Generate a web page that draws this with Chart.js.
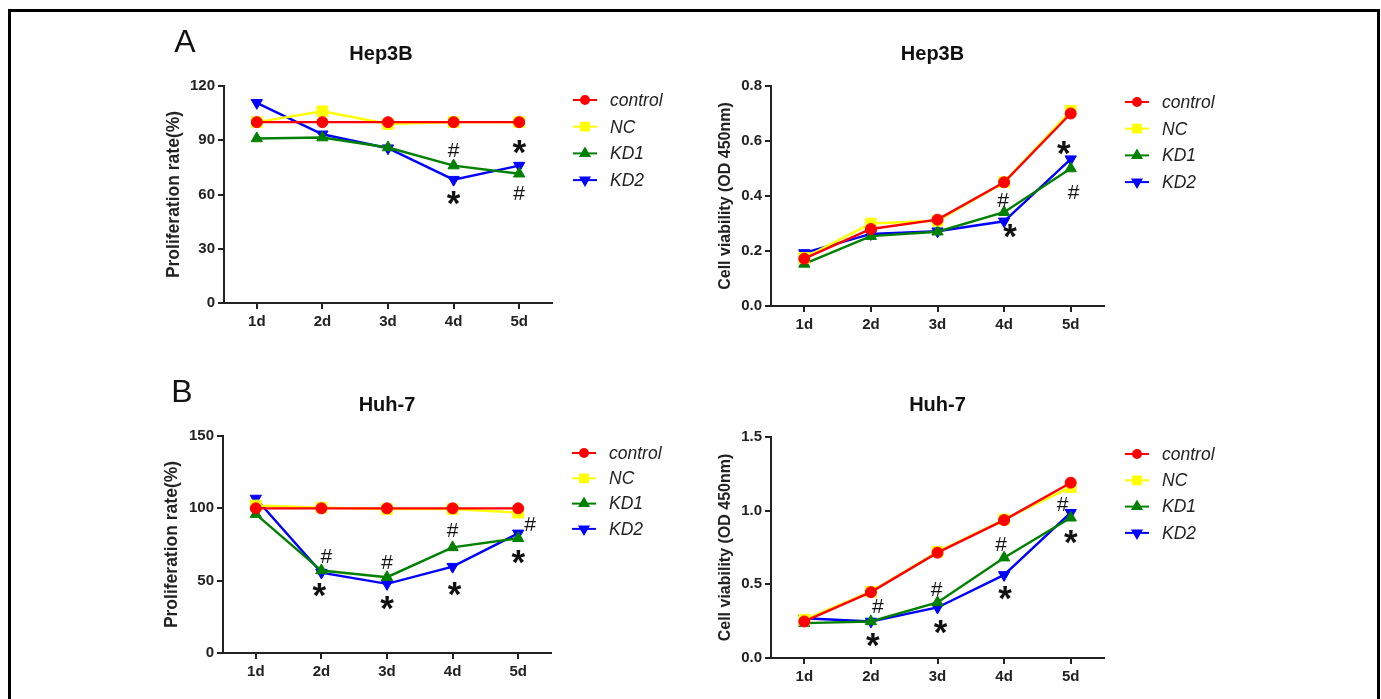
<!DOCTYPE html>
<html>
<head>
<meta charset="utf-8">
<script src="https://cdn.jsdelivr.net/npm/chart.js@4.4.0/dist/chart.umd.min.js"></script>
<style>
    html, body { margin: 0; padding: 0; background: #fff; width: 1381px; height: 699px; overflow: hidden; }
    #frame { position: absolute; left: 8px; top: 9px; width: 1372px; height: 760px; border: 3px solid #000; box-sizing: border-box; }
    canvas { position: absolute; }
</style>
</head>
<body>
<div id="frame"></div>
<canvas id="hepRate" width="560" height="330" style="left:140px;top:20px"></canvas>
<canvas id="hepOd" width="560" height="330" style="left:700px;top:20px"></canvas>
<canvas id="huhRate" width="560" height="325" style="left:140px;top:370px"></canvas>
<canvas id="huhOd" width="560" height="325" style="left:700px;top:370px"></canvas>
<script>
const FONT = "'Liberation Sans', Arial, Helvetica, sans-serif";

const days = ['1d', '2d', '3d', '4d', '5d'];
const groups = ['control', 'NC', 'KD1', 'KD2'];

// A - Hep3B, proliferation rate (%)
const hepRateControl = [100, 100, 100, 100, 100];
const hepRateNC = [100, 106, 99, 100, 100];
const hepRateKD1 = [91, 91.5, 86, 76, 71.5];
const hepRateKD2 = [110.7, 93.3, 85.6, 68.2, 76];
const hepRateHash = [null, null, null, 84.6, 61];
const hepRateStar = [null, null, null, 58, 86];
const hepRateTicks = [0, 30, 60, 90, 120];

// A - Hep3B, cell viability (OD 450nm)
const hepOdControl = [0.172, 0.28, 0.314, 0.45, 0.70];
const hepOdNC = [0.175, 0.30, 0.31, 0.45, 0.71];
const hepOdKD1 = [0.153, 0.254, 0.27, 0.341, 0.50];
const hepOdKD2 = [0.193, 0.262, 0.272, 0.308, 0.534];
const hepOdHash = [null, null, null, 0.384, 0.416];
const hepOdStar = [null, null, null, 0.273, 0.575];
const hepOdTicks = [0, 0.2, 0.4, 0.6, 0.8];

// B - Huh-7, proliferation rate (%)
const huhRateControl = [100, 100, 100, 100, 100];
const huhRateNC = [102, 100.5, 99.5, 99.5, 97];
const huhRateKD1 = [96, 57, 52.4, 73, 79.3];
const huhRateKD2 = [106.8, 55.6, 47.8, 59.7, 82.7];
const huhRateHash = [null, 66.8, 62.9, 85, 89.4];
const huhRateStar = [null, 43.6, 34.5, 44.1, 66.6];
const huhRateTicks = [0, 50, 100, 150];

// B - Huh-7, cell viability (OD 450nm)
const huhOdControl = [0.248, 0.447, 0.715, 0.936, 1.19];
const huhOdNC = [0.26, 0.45, 0.72, 0.94, 1.16];
const huhOdKD1 = [0.237, 0.248, 0.377, 0.681, 0.952];
const huhOdKD2 = [0.27, 0.248, 0.343, 0.564, 0.986];
const huhOdHash = [null, 0.352, 0.471, 0.774, 1.047];
const huhOdStar = [null, 0.124, 0.212, 0.444, 0.819];
const huhOdTicks = [0, 0.5, 1.0, 1.5];

const seriesStyle = [
    { color: '#ff0000', pointStyle: 'circle', radius: 5.5, legendRadius: 4, rotation: 0 },
    { color: '#ffff00', pointStyle: 'rect', radius: 7.5, legendRadius: 5.5, rotation: 0 },
    { color: '#008000', pointStyle: 'triangle', radius: 6.5, legendRadius: 5, rotation: 0 },
    { color: '#0000ff', pointStyle: 'triangle', radius: 6.5, legendRadius: 5, rotation: 180 }
];

// draws panel letter, title, legend and the significance marks
const figureExtras = {
    id: 'figureExtras',
    afterDraw(chart, args, opts) {
        const ctx = chart.ctx;
        const area = chart.chartArea;
        const xs = chart.scales.x;
        const ys = chart.scales.y;
        ctx.save();
        ctx.fillStyle = '#111';
        ctx.textAlign = 'center';
        ctx.textBaseline = 'alphabetic';
        ctx.font = 'bold 20px ' + FONT;
        ctx.fillText(opts.title, (area.left + area.right) / 2 + opts.titleDx, area.top - opts.titleGap);
        if (opts.letter) {
            ctx.font = '32px ' + FONT;
            ctx.fillText(opts.letter, opts.letterX, opts.letterY);
        }

        // legend
        chart.data.datasets.forEach((ds, i) => {
            const st = seriesStyle[i];
            const y = area.top + opts.legendTop + i * opts.legendGap;
            const mx = area.right + 33;
            ctx.strokeStyle = st.color;
            ctx.fillStyle = st.color;
            ctx.lineWidth = 2;
            ctx.beginPath();
            ctx.moveTo(mx - 12, y);
            ctx.lineTo(mx + 12, y);
            ctx.stroke();
            Chart.helpers.drawPoint(ctx, { pointStyle: st.pointStyle, rotation: st.rotation, radius: st.legendRadius, borderWidth: 1 }, mx, y);
            ctx.fillStyle = '#222';
            ctx.font = 'italic 17.5px ' + FONT;
            ctx.textAlign = 'left';
            ctx.textBaseline = 'middle';
            ctx.fillText(ds.label, mx + 25, y + 1);
        });

        // significance marks, ink centred on the value
        ctx.fillStyle = '#111';
        ctx.textAlign = 'center';
        ctx.textBaseline = 'alphabetic';
        opts.marks.forEach(mk => {
            ctx.font = mk.font;
            const m = ctx.measureText(mk.sym);
            const shift = (m.actualBoundingBoxAscent - m.actualBoundingBoxDescent) / 2;
            mk.vals.forEach((v, idx) => {
                if (v === null) return;
                const x = xs.getPixelForValue(idx) + (mk.dx ? mk.dx[idx] : 0);
                const y = ys.getPixelForValue(v);
                ctx.fillText(mk.sym, x, y + shift);
            });
        });
        ctx.restore();
    }
};

function buildPanel(id, geo, axis, values, extras) {
    const canvas = document.getElementById(id);
    const lh = axis.titleSize * 1.2;
    const padLeft = geo.yTitleX - geo.cx - lh / 2;
    const tickFont = { family: FONT, size: 15, weight: 'bold' };
    const gridStyle = { display: true, drawOnChartArea: false, drawTicks: true, tickLength: 6, color: '#222', tickColor: '#222', lineWidth: 2 };

    return new Chart(canvas, {
        type: 'line',
        data: {
            labels: days,
            datasets: groups.map((g, i) => ({
                label: g,
                data: values[i],
                borderColor: seriesStyle[i].color,
                backgroundColor: seriesStyle[i].color,
                pointStyle: seriesStyle[i].pointStyle,
                pointRadius: seriesStyle[i].radius,
                pointRotation: seriesStyle[i].rotation,
                pointBorderWidth: 1,
                borderWidth: 2.4,
                tension: 0
            }))
        },
        options: {
            responsive: false,
            animation: false,
            events: [],
            layout: {
                padding: { left: padLeft, top: geo.T - geo.cy, right: geo.cx + geo.w - geo.R, bottom: 0 }
            },
            plugins: {
                legend: { display: false },
                tooltip: { enabled: false },
                figureExtras: extras
            },
            scales: {
                x: {
                    type: 'category',
                    offset: true,
                    grid: gridStyle,
                    border: { color: '#222', width: 2 },
                    ticks: { color: '#222', font: tickFont, padding: 4, maxRotation: 0 },
                    afterFit: s => { s.height = geo.cy + geo.h - geo.B; }
                },
                y: {
                    min: axis.ticks[0],
                    max: axis.ticks[axis.ticks.length - 1],
                    afterBuildTicks: s => { s.ticks = axis.ticks.map(v => ({ value: v })); },
                    grid: gridStyle,
                    border: { color: '#222', width: 2 },
                    ticks: { color: '#222', font: tickFont, padding: 3, callback: v => v.toFixed(axis.decimals) },
                    title: { display: true, text: axis.title, color: '#222', padding: 0, font: { family: FONT, size: axis.titleSize, weight: 'bold' } },
                    afterFit: s => { s.width = geo.L - geo.cx - padLeft; }
                }
            }
        },
        plugins: [figureExtras]
    });
}

const hashFont = '21px ' + FONT;
const starFont = 'bold 35px ' + FONT;

buildPanel('hepRate',
    { cx: 140, cy: 20, w: 560, h: 330, L: 224, R: 552, T: 86, B: 303, yTitleX: 174 },
    { ticks: hepRateTicks, decimals: 0, title: 'Proliferation rate(%)', titleSize: 17.5 },
    [hepRateControl, hepRateNC, hepRateKD1, hepRateKD2],
    { title: 'Hep3B', titleDx: -7, titleGap: 26, letter: 'A', letterX: 45, letterY: 32,
      legendTop: 14, legendGap: 26.7,
      marks: [{ sym: '#', font: hashFont, vals: hepRateHash }, { sym: '*', font: starFont, vals: hepRateStar }] });

buildPanel('hepOd',
    { cx: 700, cy: 20, w: 560, h: 330, L: 771, R: 1104, T: 86, B: 306, yTitleX: 726 },
    { ticks: hepOdTicks, decimals: 1, title: 'Cell viability (OD 450nm)', titleSize: 16 },
    [hepOdControl, hepOdNC, hepOdKD1, hepOdKD2],
    { title: 'Hep3B', titleDx: -5, titleGap: 26, letter: '', letterX: 0, letterY: 0,
      legendTop: 16, legendGap: 26.7,
      marks: [{ sym: '#', font: hashFont, vals: hepOdHash, dx: [0, 0, 0, -1, 3] },
              { sym: '*', font: starFont, vals: hepOdStar, dx: [0, 0, 0, 6, -7] }] });

buildPanel('huhRate',
    { cx: 140, cy: 370, w: 560, h: 325, L: 223, R: 551, T: 436, B: 653, yTitleX: 172 },
    { ticks: huhRateTicks, decimals: 0, title: 'Proliferation rate(%)', titleSize: 17.5 },
    [huhRateControl, huhRateNC, huhRateKD1, huhRateKD2],
    { title: 'Huh-7', titleDx: 0, titleGap: 25, letter: 'B', letterX: 42, letterY: 32,
      legendTop: 17, legendGap: 25.3,
      marks: [{ sym: '#', font: hashFont, vals: huhRateHash, dx: [0, 5, 0, 0, 12] },
              { sym: '*', font: starFont, vals: huhRateStar, dx: [0, -2, 0, 2, 0] }] });

buildPanel('huhOd',
    { cx: 700, cy: 370, w: 560, h: 325, L: 771, R: 1104, T: 437, B: 658, yTitleX: 726 },
    { ticks: huhOdTicks, decimals: 1, title: 'Cell viability (OD 450nm)', titleSize: 16 },
    [huhOdControl, huhOdNC, huhOdKD1, huhOdKD2],
    { title: 'Huh-7', titleDx: 0, titleGap: 26, letter: '', letterX: 0, letterY: 0,
      legendTop: 17, legendGap: 26.3,
      marks: [{ sym: '#', font: hashFont, vals: huhOdHash, dx: [0, 7, -1, -3, -8] },
              { sym: '*', font: starFont, vals: huhOdStar, dx: [0, 2, 3, 1, 0] }] });
</script>
</body>
</html>
